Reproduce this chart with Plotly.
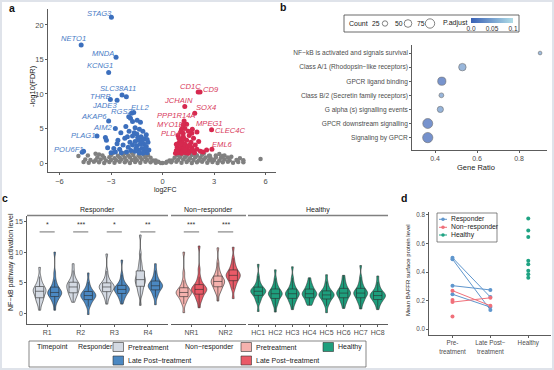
import plotly.graph_objects as go

W, H = 554, 370
FONT = "Liberation Sans, Arial, sans-serif"
AX = "#333333"
TXT = "#4d4d4d"

def px(x):
    return x / W

def py(y):
    return 1 - y / H

# ---------------- Panel a : volcano ----------------
gray_x = [-4.6, -4.3, -4.0, -3.7, -3.4, -3.1, -2.8, -2.5, -2.2, -1.9, -1.6, -1.3, -1.0, -0.7, -0.4, -0.1,
          0.2, 0.5, 0.8, 1.1, 1.4, 1.7, 2.0, 2.3, 2.6, 2.9, 3.2, 3.5, 3.8, 4.1, 4.4, 4.7,
          -4.2, -3.9, -3.6, -3.3, -3.0, -2.7, -2.4, -2.1, -1.8, -1.5, -1.2, -0.9, -0.55,
          0.55, 0.9, 1.2, 1.5, 1.8, 2.1, 2.4, 2.7, 3.0, 3.3, 3.6, 3.9, 4.3,
          -3.8, -3.4, -3.1, -2.8, -2.5, -2.2, -1.9, -1.6, -1.3, -1.0, -0.7,
          0.7, 1.0, 1.3, 1.6, 1.9, 2.2, 2.5, 2.8, 3.1, 3.4, 3.8,
          -3.5, -3.0, -2.6, -2.3, -2.0, -1.7, -1.4, -1.1, -0.85, 0.85, 1.1, 1.4, 1.7, 2.0, 2.3, 2.7, 3.1, 3.5,
          -3.9, -2.9, -2.2, -1.8, -1.3, -1.0, 1.0, 1.3, 1.9, 2.4, 3.3,
          -4.9, -4.35, -3.7, 5.7, 4.0, 4.5, -0.25, 0.25, 0.0, -0.4, 0.4, 2.75, 3.6, -4.5, 4.7]
gray_y = [0.15, 0.05, 0.2, 0.1, 0.0, 0.15, 0.05, 0.2, 0.1, 0.0, 0.15, 0.05, 0.2, 0.1, 0.05, 0.0,
          0.05, 0.1, 0.2, 0.05, 0.15, 0.0, 0.1, 0.2, 0.05, 0.15, 0.0, 0.1, 0.2, 0.05, 0.15, 0.1,
          0.45, 0.4, 0.5, 0.35, 0.45, 0.4, 0.5, 0.35, 0.45, 0.4, 0.5, 0.45, 0.35,
          0.35, 0.45, 0.5, 0.4, 0.45, 0.35, 0.5, 0.4, 0.45, 0.35, 0.5, 0.4, 0.45,
          0.8, 0.75, 0.85, 0.7, 0.8, 0.75, 0.85, 0.7, 0.8, 0.85, 0.75,
          0.75, 0.85, 0.8, 0.7, 0.85, 0.75, 0.8, 0.7, 0.85, 0.75, 0.8,
          1.1, 1.15, 1.05, 1.2, 1.1, 1.15, 1.05, 1.2, 1.15, 1.15, 1.2, 1.05, 1.15, 1.1, 1.2, 1.05, 1.1, 1.0,
          1.35, 1.4, 1.45, 1.5, 1.4, 1.45, 1.45, 1.4, 1.35, 1.4, 1.3,
          1.0, 1.1, 1.25, 0.6, 0.9, 0.7, 0.2, 0.2, 0.02, 0.35, 0.35, 1.05, 1.1, 0.5, 0.4]

blue_x = [-2.11, -1.81, -1.87, -1.48, -1.29, -1.75, -2.43, -2.14, -3.33, -3.27, -3.2, -2.65, -2.84, -2.5,
          -2.2, -1.95, -1.6, -1.35, -1.15, -0.95, -1.5, -1.75, -1.25, -1.05, -0.85, -1.4, -1.6, -1.9,
          -2.3, -2.0, -1.75, -1.5, -1.3, -1.1, -0.95, -0.8, -0.9, -1.05, -1.2, -1.4, -1.6, -1.85, -2.1,
          -2.4, -2.75, -1.15, -1.35, -1.55, -1.0, -1.2, -0.9, -1.45, -1.65, -2.05, -2.6, -3.0, -4.68]
blue_y = [9.6, 7.2, 6.5, 6.2, 5.9, 6.0, 4.4, 5.3, 3.7, 3.3, 2.2, 2.8, 2.1, 2.0,
          3.6, 4.6, 5.1, 4.9, 4.6, 4.1, 4.2, 3.9, 3.8, 3.5, 3.0, 3.3, 3.1, 3.0,
          2.6, 2.3, 2.6, 2.5, 2.7, 2.8, 2.4, 1.9, 1.5, 1.8, 2.1, 1.9, 1.7, 1.8, 1.6,
          1.5, 1.6, 1.4, 1.45, 2.1, 2.2, 3.2, 3.4, 3.7, 4.4, 3.8, 3.3, 1.5, 1.55]

red_x = [0.75, 0.8, 0.85, 0.9, 0.95, 1.0, 1.0, 1.05, 1.1, 1.15, 1.2, 1.2, 1.25, 1.3, 1.35, 1.4, 1.45,
         1.5, 1.55, 1.6, 1.65, 1.7, 1.8, 1.85, 1.9, 2.0, 2.1, 2.2, 2.35, 2.56, 1.3, 1.4, 1.2, 1.1,
         1.5, 0.9, 1.7, 2.0, 0.8, 0.95, 1.1, 1.3, 1.5, 1.75, 1.05, 1.25, 1.6, 0.85]
red_y = [1.4, 1.8, 2.3, 1.5, 2.9, 2.0, 3.4, 1.6, 2.5, 3.0, 1.8, 3.8, 2.2, 2.7, 1.5, 3.3, 2.0,
         2.5, 4.0, 1.7, 3.0, 2.2, 3.6, 1.5, 2.6, 2.0, 3.1, 1.7, 1.6, 1.9, 5.0, 5.6, 4.3, 4.9,
         4.6, 4.0, 4.3, 4.5, 2.7, 3.6, 1.4, 1.9, 1.4, 1.9, 2.7, 3.5, 2.6, 1.6]

down_genes = ["STAG3", "NETO1", "MNDA", "KCNG1", "SLC38A11", "THRB", "JADE3", "RGS2", "ELL2",
              "AKAP6", "AIM2", "PLAG1", "POU6F1"]
down_x = [-2.98, -4.74, -2.71, -3.14, -2.36, -3.04, -2.65, -1.97, -1.68, -3.14, -2.75, -3.82, -4.6]
down_y = [21.1, 17.1, 15.3, 13.1, 9.85, 9.2, 9.1, 6.7, 7.3, 6.1, 5.0, 3.9, 1.7]

up_genes = ["CD1C", "CD9", "JCHAIN", "SOX4", "PPP1R14A", "MYO1E", "MPEG1", "CLEC4C", "PLD4", "EML6"]
up_x = [2.07, 2.18, 1.29, 1.87, 1.25, 1.19, 1.73, 2.85, 1.05, 2.87]
up_y = [10.3, 10.3, 8.2, 7.2, 6.1, 5.5, 4.9, 4.8, 4.5, 2.0]

# ---------------- Panel b : enrichment dot plot ----------------
pathways = ["Signaling by GPCR", "GPCR downstream signalling", "G alpha (s) signalling events",
            "Class B/2 (Secretin family receptors)", "GPCR ligand binding",
            "Class A/1 (Rhodopsin\u2212like receptors)", "NF\u2212kB is activated and signals survival"]
gene_ratio = [0.365, 0.365, 0.425, 0.43, 0.432, 0.53, 0.90]
gene_count = [90, 85, 33, 20, 58, 48, 12]
p_adjust = [0.002, 0.004, 0.042, 0.045, 0.006, 0.046, 0.05]
legend_counts = [25, 50, 75]

# ---------------- Panel c : violins ----------------
resp_ids = ["R1", "R2", "R3", "R4"]
nonresp_ids = ["NR1", "NR2"]
healthy_ids = ["HC1", "HC2", "HC3", "HC4", "HC5", "HC6", "HC7", "HC8"]

R1_pre = [0.5, 1.4, 1.8, 2.1, 2.35, 2.6, 2.85, 3.1, 3.3, 3.45, 3.6, 3.72, 3.85, 4.0, 4.15, 4.3, 4.6, 4.9, 5.3, 6.0, 7.5]
R1_late = [0.5, 1.6, 2.0, 2.3, 2.55, 2.8, 2.95, 3.1, 3.2, 3.3, 3.4, 3.5, 3.62, 3.78, 3.98, 4.2, 4.5, 4.9, 5.5, 6.6, 10.0]
R2_pre = [1.8, 2.4, 2.7, 3.0, 3.2, 3.4, 3.6, 3.8, 4.0, 4.15, 4.3, 4.45, 4.6, 4.75, 4.9, 5.0, 5.3, 5.6, 6.1, 7.0, 8.1]
R2_late = [-0.2, 1.1, 1.5, 1.8, 2.05, 2.3, 2.45, 2.6, 2.72, 2.82, 2.9, 3.0, 3.1, 3.22, 3.35, 3.5, 3.75, 4.0, 4.4, 5.1, 6.6]
R3_pre = [1.5, 2.4, 2.8, 3.1, 3.35, 3.6, 3.78, 3.95, 4.08, 4.2, 4.3, 4.4, 4.5, 4.62, 4.75, 4.9, 5.2, 5.5, 6.0, 6.9, 9.7]
R3_late = [1.5, 2.2, 2.55, 2.8, 3.05, 3.3, 3.45, 3.6, 3.7, 3.8, 3.9, 4.0, 4.1, 4.22, 4.35, 4.5, 4.75, 5.0, 5.5, 6.3, 8.7]
R4_pre = [1.3, 2.9, 3.4, 3.8, 4.15, 4.5, 4.75, 5.0, 5.2, 5.35, 5.5, 5.7, 5.95, 6.2, 6.5, 6.8, 7.3, 7.8, 8.5, 9.8, 12.8]
R4_late = [1.4, 2.6, 3.0, 3.3, 3.6, 3.9, 4.05, 4.2, 4.3, 4.4, 4.5, 4.6, 4.72, 4.85, 5.0, 5.2, 5.5, 5.8, 6.3, 7.0, 8.1]
NR1_pre = [0.1, 1.5, 1.9, 2.2, 2.5, 2.8, 2.95, 3.1, 3.2, 3.3, 3.4, 3.5, 3.6, 3.75, 3.9, 4.1, 4.4, 4.8, 5.4, 6.6, 10.0]
NR1_late = [0.9, 1.9, 2.3, 2.6, 2.9, 3.2, 3.38, 3.55, 3.68, 3.8, 3.9, 4.0, 4.12, 4.28, 4.42, 4.6, 4.95, 5.35, 6.0, 7.2, 11.0]
NR2_pre = [2.0, 3.2, 3.6, 3.9, 4.15, 4.4, 4.6, 4.8, 4.95, 5.08, 5.2, 5.32, 5.45, 5.6, 5.8, 6.0, 6.35, 6.7, 7.3, 8.3, 10.7]
NR2_late = [2.4, 3.9, 4.4, 4.8, 5.1, 5.4, 5.6, 5.8, 5.95, 6.08, 6.2, 6.32, 6.45, 6.6, 6.8, 7.0, 7.35, 7.7, 8.2, 9.0, 10.8]
HC1 = [0.3, 1.7, 2.1, 2.4, 2.7, 3.0, 3.15, 3.3, 3.42, 3.52, 3.6, 3.7, 3.8, 3.92, 4.05, 4.2, 4.5, 4.8, 5.3, 6.1, 8.0]
HC2 = [0.2, 1.2, 1.6, 1.9, 2.2, 2.5, 2.68, 2.85, 2.98, 3.1, 3.2, 3.3, 3.42, 3.56, 3.72, 3.9, 4.2, 4.5, 4.95, 5.7, 7.1]
HC3 = [0.6, 1.4, 1.75, 2.0, 2.25, 2.5, 2.68, 2.85, 2.98, 3.1, 3.2, 3.3, 3.42, 3.56, 3.72, 3.9, 4.2, 4.55, 5.0, 5.8, 7.6]
HC4 = [1.3, 1.6, 1.85, 2.1, 2.35, 2.6, 2.75, 2.9, 3.0, 3.1, 3.2, 3.3, 3.42, 3.56, 3.72, 3.9, 4.15, 4.4, 4.7, 5.1, 5.8]
HC5 = [0.1, 1.2, 1.6, 1.9, 2.15, 2.4, 2.55, 2.7, 2.82, 2.92, 3.0, 3.1, 3.2, 3.32, 3.45, 3.6, 3.85, 4.15, 4.55, 5.2, 6.3]
HC6 = [0.8, 1.5, 1.85, 2.1, 2.35, 2.6, 2.78, 2.95, 3.08, 3.2, 3.3, 3.4, 3.52, 3.66, 3.82, 4.0, 4.3, 4.6, 4.95, 5.5, 6.2]
HC7 = [0.7, 1.5, 1.85, 2.1, 2.35, 2.6, 2.78, 2.95, 3.08, 3.2, 3.3, 3.4, 3.52, 3.66, 3.82, 4.0, 4.3, 4.65, 5.1, 5.9, 7.8]
HC8 = [0.6, 1.3, 1.65, 1.9, 2.1, 2.3, 2.45, 2.6, 2.72, 2.82, 2.9, 3.0, 3.1, 3.22, 3.35, 3.5, 3.75, 4.05, 4.45, 5.1, 6.1]

resp_stars = ["*", "***", "*", "**"]
nonresp_stars = ["***", "***"]

# ---------------- Panel d : BAFFR ----------------
d_cats = ["Pre", "Late", "Healthy"]
d_ticktext = ["Pre-<br>treatment", "Late Post\u2212<br>treatment", "Healthy"]
resp_pre_baffr = [0.50, 0.49, 0.305, 0.245]
resp_late_baffr = [0.225, 0.135, 0.275, 0.155]
nonresp_pre_baffr = [0.27, 0.19, 0.205, 0.09]
nonresp_late_baffr = [0.165, 0.22, None, None]
healthy_baffr = [0.775, 0.69, 0.645, 0.48, 0.455, 0.41, 0.385, 0.36]

# ---------------- colours ----------------
BLUE = "#3c6fbd"
RED = "#d6294f"
C_PRE_R = "#d4dae3"
C_LATE_R = "#4b88c2"
C_PRE_NR = "#f5b2ae"
C_LATE_NR = "#ea5a67"
C_HC = "#1e9f7d"
D_BLUE = "#5f96cd"
D_RED = "#f0707a"
D_GREEN = "#1fa383"

fig = go.Figure()

# ---- panel a traces
fig.add_trace(go.Scatter(x=gray_x, y=gray_y, mode="markers", xaxis="x", yaxis="y",
                         marker=dict(color="#808080", size=4.5), hoverinfo="skip"))
fig.add_trace(go.Scatter(x=blue_x + down_x, y=blue_y + down_y, mode="markers", xaxis="x", yaxis="y",
                         marker=dict(color=BLUE, size=5), hoverinfo="skip"))
fig.add_trace(go.Scatter(x=red_x + up_x, y=red_y + up_y, mode="markers", xaxis="x", yaxis="y",
                         marker=dict(color=RED, size=5), hoverinfo="skip"))

# label text positions (x, y of text centre in data units) -- layout, not data
label_pos = {
    "STAG3": (-3.68, 21.7), "NETO1": (-5.2, 18.0), "MNDA": (-3.45, 15.9), "KCNG1": (-3.63, 14.06),
    "SLC38A11": (-2.57, 10.85), "THRB": (-3.6, 9.65), "JADE3": (-3.39, 8.3), "RGS2": (-2.4, 7.49),
    "ELL2": (-1.29, 8.01), "AKAP6": (-3.98, 6.77), "AIM2": (-3.45, 5.17), "PLAG1": (-4.62, 4.01),
    "POU6F1": (-5.44, 1.99),
    "CD1C": (1.64, 11.01), "CD9": (2.81, 10.68), "JCHAIN": (0.94, 9.09), "SOX4": (2.51, 8.01),
    "PPP1R14A": (0.76, 6.91), "MYO1E": (0.47, 5.61), "MPEG1": (2.72, 5.7), "CLEC4C": (3.9, 4.7),
    "PLD4": (0.47, 4.25), "EML6": (3.51, 2.61),
}

annotations = []
for g in down_genes + up_genes:
    tx, ty = label_pos[g]
    col = "#4a7cc6" if g in down_genes else "#d83a5c"
    annotations.append(dict(xref="x", yref="y", x=tx, y=ty, text="<i>%s</i>" % g, showarrow=False,
                            font=dict(size=7.6, color=col, family=FONT), xanchor="center", yanchor="middle"))

# ---- panel b traces
def dot_size(c):
    return 1.08 * c ** 0.5

fig.add_trace(go.Scatter(
    x=gene_ratio, y=pathways, mode="markers", xaxis="x2", yaxis="y2", hoverinfo="skip",
    marker=dict(size=[dot_size(c) for c in gene_count], color=p_adjust,
                colorscale=[[0, "#3961b6"], [1, "#afdce7"]], cmin=0, cmax=0.1,
                line=dict(color="#333333", width=0.6),
                colorbar=dict(orientation="h", x=px(492), xanchor="center", y=py(18), yanchor="top",
                              len=42, lenmode="pixels", thickness=5, thicknessmode="pixels",
                              tickvals=[0, 0.05, 0.1], ticktext=["0.0", "0.05", "0.1"],
                              tickfont=dict(size=6.5, color="#333333", family=FONT), ticks="",
                              outlinewidth=0, xpad=0, ypad=0))))

# size legend glyphs on a full-figure pixel axis (x7/y7)
legend_circle_x = [385, 408, 430]
fig.add_trace(go.Scatter(x=legend_circle_x, y=[23.5, 23.5, 23.5], mode="markers", xaxis="x7", yaxis="y7",
                         marker=dict(size=[dot_size(c) for c in legend_counts], color="white",
                                     line=dict(color="#222222", width=0.8)), hoverinfo="skip"))

# ---- panel c traces
def violin(cats, samples, color, xa, ya, bw, agroup, ogroup):
    xs, ys = [], []
    for c, s in zip(cats, samples):
        xs += [c] * len(s)
        ys += s
    return go.Violin(x=xs, y=ys, xaxis=xa, yaxis=ya, fillcolor=color,
                     alignmentgroup=agroup, offsetgroup=ogroup,
                     line=dict(color="#2b2b2b", width=0.6),
                     box=dict(visible=True, width=0.55, fillcolor=color,
                              line=dict(color="#2b2b2b", width=0.6)),
                     meanline=dict(visible=False), points=False, spanmode="hard",
                     bandwidth=bw, scalemode="width", hoverinfo="skip", showlegend=False)

fig.add_trace(violin(resp_ids, [R1_pre, R2_pre, R3_pre, R4_pre], C_PRE_R, "x3", "y3", 0.5, "R", "pre"))
fig.add_trace(violin(resp_ids, [R1_late, R2_late, R3_late, R4_late], C_LATE_R, "x3", "y3", 0.5, "R", "late"))
fig.add_trace(violin(nonresp_ids, [NR1_pre, NR2_pre], C_PRE_NR, "x4", "y4", 0.5, "NR", "pre"))
fig.add_trace(violin(nonresp_ids, [NR1_late, NR2_late], C_LATE_NR, "x4", "y4", 0.5, "NR", "late"))
fig.add_trace(violin(healthy_ids, [HC1, HC2, HC3, HC4, HC5, HC6, HC7, HC8], C_HC, "x5", "y5", 0.45, "HC", "hc"))

shapes = []
for xa, ids, stars in (("x3", resp_ids, resp_stars), ("x4", nonresp_ids, nonresp_stars)):
    for i, s in enumerate(stars):
        shapes.append(dict(type="line", xref=xa, yref="y3", x0=i - 0.225, x1=i + 0.225, y0=13.3, y1=13.3,
                           line=dict(color="#333333", width=0.7)))
        annotations.append(dict(xref=xa, yref="y3", x=i, y=13.6, text=s, showarrow=False,
                                yanchor="bottom", font=dict(size=7, color="#333333", family=FONT)))

# ---- panel d traces
for a, b in zip(resp_pre_baffr, resp_late_baffr):
    fig.add_trace(go.Scatter(x=["Pre", "Late"], y=[a, b], mode="lines+markers", xaxis="x6", yaxis="y6",
                             line=dict(color=D_BLUE, width=1), marker=dict(color=D_BLUE, size=4), hoverinfo="skip"))
for a, b in zip(nonresp_pre_baffr, nonresp_late_baffr):
    fig.add_trace(go.Scatter(x=["Pre", "Late"], y=[a, b], mode="lines+markers", xaxis="x6", yaxis="y6",
                             line=dict(color=D_RED, width=1), marker=dict(color=D_RED, size=4), hoverinfo="skip"))
fig.add_trace(go.Scatter(x=["Healthy"] * len(healthy_baffr), y=healthy_baffr, mode="markers", xaxis="x6", yaxis="y6",
                         marker=dict(color=D_GREEN, size=4), hoverinfo="skip"))

# panel d legend glyphs (pixel axis)
d_leg = [("Responder", D_BLUE, 219.3), ("Non\u2212responder", D_RED, 227.3), ("Healthy", D_GREEN, 235.0)]
for name, col, yy in d_leg:
    fig.add_trace(go.Scatter(x=[439, 443, 447], y=[yy, yy, yy], mode="lines", xaxis="x7", yaxis="y7",
                             line=dict(color=col, width=1), hoverinfo="skip"))
    fig.add_trace(go.Scatter(x=[443], y=[yy], mode="markers", xaxis="x7", yaxis="y7",
                             marker=dict(color=col, size=3.5), hoverinfo="skip"))
    annotations.append(dict(xref="paper", yref="paper", x=px(449), y=py(yy), text=name, showarrow=False,
                            xanchor="left", yanchor="middle", font=dict(size=6.8, color="#222222", family=FONT)))
shapes.append(dict(type="rect", xref="paper", yref="paper", x0=px(437), x1=px(497), y0=py(242), y1=py(213),
                   line=dict(color="#555555", width=0.7)))

# ---------------- annotations / shapes ----------------
def ann(text, x, y, size=7, color=TXT, xanchor="center", yanchor="middle", angle=0):
    annotations.append(dict(xref="paper", yref="paper", x=px(x), y=py(y), text=text, showarrow=False,
                            xanchor=xanchor, yanchor=yanchor, textangle=angle,
                            font=dict(size=size, color=color, family=FONT)))

# panel letters
ann("<b>a</b>", 11.5, 7.5, size=10.5, color="#111111")
ann("<b>b</b>", 283, 7, size=10.5, color="#111111")
ann("<b>c</b>", 5, 197.5, size=10.5, color="#111111")
ann("<b>d</b>", 404, 197.5, size=10.5, color="#111111")

# axis titles
ann("-log10(FDR)", 32, 86, size=7.5, color="#222222", angle=-90)
ann("log2FC", 165, 189.5, size=7, color="#222222")
ann("Gene Ratio", 476, 167, size=7.5, color="#222222")
ann("NF\u2212kB pathway activation level", 11, 262, size=7, color="#222222", angle=-90)
ann("Mean BAFFR surface protein level", 408, 270, size=6, color="#222222", angle=-90)

# panel b legend box
shapes.append(dict(type="rect", xref="paper", yref="paper", x0=px(344), x1=px(519), y0=py(32), y1=py(15),
                   line=dict(color="#444444", width=0.8)))
ann("Count", 358, 23.5, size=7, color="#222222")
for c, cx in zip(legend_counts, legend_circle_x):
    ann(str(c), cx - 9.5, 23.5, size=6.8, color="#222222")
ann("P.adjust", 455, 22.5, size=7, color="#222222")

# panel c strips
strips = [("Responder", 27, 168), ("Non\u2212responder", 171, 246), ("Healthy", 248, 388)]
for name, x0, x1 in strips:
    ann(name, (x0 + x1) / 2, 209.5, size=7, color="#222222")
    shapes.append(dict(type="line", xref="paper", yref="paper", x0=px(x0), x1=px(x1), y0=py(215.5), y1=py(215.5),
                       line=dict(color="#808080", width=1.3)))

# panel c legend
shapes.append(dict(type="rect", xref="paper", yref="paper", x0=px(29), x1=px(366), y0=py(367), y1=py(341),
                   line=dict(color="#555555", width=0.7)))
swatches = [(113, 342.5, C_PRE_R), (113, 356, C_LATE_R), (241, 342.5, C_PRE_NR), (241, 356, C_LATE_NR),
            (323, 342.5, C_HC)]
for sx, sy, col in swatches:
    shapes.append(dict(type="rect", xref="paper", yref="paper", x0=px(sx), x1=px(sx + 10.5), y0=py(sy + 9),
                       y1=py(sy), fillcolor=col, line=dict(color="#333333", width=0.6)))
ann("Timepoint", 35, 347, color="#222222", xanchor="left")
ann("Responder", 76, 347, color="#222222", xanchor="left")
ann("Pretreatment", 126, 347, color="#222222", xanchor="left")
ann("Late Post\u2212treatment", 126, 360.5, color="#222222", xanchor="left")
ann("Non\u2212responder", 183, 347, color="#222222", xanchor="left")
ann("Pretreatment", 254, 347, color="#222222", xanchor="left")
ann("Late Post\u2212treatment", 254, 360.5, color="#222222", xanchor="left")
ann("Healthy", 336, 347, color="#222222", xanchor="left")

# outer frame
shapes.append(dict(type="rect", xref="paper", yref="paper", x0=0, x1=1, y0=0, y1=1,
                   line=dict(color="#dfe3ea", width=4)))

# ---------------- axes ----------------
def axis(**kw):
    base = dict(showline=True, linecolor=AX, linewidth=0.8, ticks="outside", ticklen=2, tickcolor=AX,
                tickwidth=0.8, showgrid=False, zeroline=False,
                tickfont=dict(size=7.5, color=TXT, family=FONT))
    base.update(kw)
    return base

layout = dict(
    width=W, height=H, margin=dict(l=0, r=0, t=0, b=0, pad=0),
    paper_bgcolor="white", plot_bgcolor="rgba(0,0,0,0)", showlegend=False,
    violinmode="group", violingap=0.1, violingroupgap=0,
    font=dict(family=FONT, size=7, color=TXT),
    # a
    xaxis=axis(domain=[px(48), px(276)], anchor="y", range=[-6.67, 6.6], tickvals=[-6, -3, 0, 3, 6]),
    yaxis=axis(domain=[py(172), py(9)], anchor="x", range=[-1.3, 22.3], tickvals=[0, 5, 10, 15, 20]),
    # b
    xaxis2=axis(domain=[px(412), px(547)], anchor="y2", range=[0.29, 0.933], tickvals=[0.4, 0.6, 0.8],
                tickfont=dict(size=7, color=TXT, family=FONT)),
    yaxis2=axis(domain=[py(150), py(45)], anchor="x2", type="category", categoryorder="array",
                categoryarray=pathways, range=[-0.88, 6.57],
                tickfont=dict(size=6.6, color=TXT, family=FONT)),
    # c
    xaxis3=axis(domain=[px(27), px(168)], anchor="y3", type="category", categoryorder="array",
                categoryarray=resp_ids, range=[-0.6, 3.6], tickfont=dict(size=7, color=TXT, family=FONT)),
    yaxis3=axis(domain=[py(324), py(216)], anchor="x3", range=[-1.75, 15.9], tickvals=[0, 5, 10, 15],
                tickfont=dict(size=7, color=TXT, family=FONT)),
    xaxis4=axis(domain=[px(171), px(246)], anchor="y4", type="category", categoryorder="array",
                categoryarray=nonresp_ids, range=[-0.6, 1.6], tickfont=dict(size=7, color=TXT, family=FONT)),
    yaxis4=dict(domain=[py(324), py(216)], anchor="x4", range=[-1.75, 15.9], visible=False),
    xaxis5=axis(domain=[px(248), px(388)], anchor="y5", type="category", categoryorder="array",
                categoryarray=healthy_ids, range=[-0.6, 7.6], tickfont=dict(size=7, color=TXT, family=FONT)),
    yaxis5=dict(domain=[py(324), py(216)], anchor="x5", range=[-1.75, 15.9], visible=False),
    # d
    xaxis6=axis(domain=[px(429), px(551)], anchor="y6", type="category", categoryorder="array",
                categoryarray=d_cats, range=[-0.62, 2.6], tickvals=d_cats, ticktext=d_ticktext,
                tickfont=dict(size=6.3, color=TXT, family=FONT)),
    yaxis6=axis(domain=[py(335), py(212)], anchor="x6", range=[-0.04, 0.82],
                tickvals=[0, 0.2, 0.4, 0.6, 0.8], ticktext=["0.0", "0.2", "0.4", "0.6", "0.8"],
                tickfont=dict(size=6.3, color=TXT, family=FONT)),
    # pixel overlay axis for legend glyphs
    xaxis7=dict(domain=[0, 1], anchor="y7", range=[0, W], visible=False, fixedrange=True),
    yaxis7=dict(domain=[0, 1], anchor="x7", range=[H, 0], visible=False, fixedrange=True),
    annotations=annotations,
    shapes=shapes,
)
fig.update_layout(**layout)
fig.write_html("out.html", config={"displayModeBar": False, "staticPlot": True},
               post_script="document.body.style.margin='0';document.body.style.padding='0';")
